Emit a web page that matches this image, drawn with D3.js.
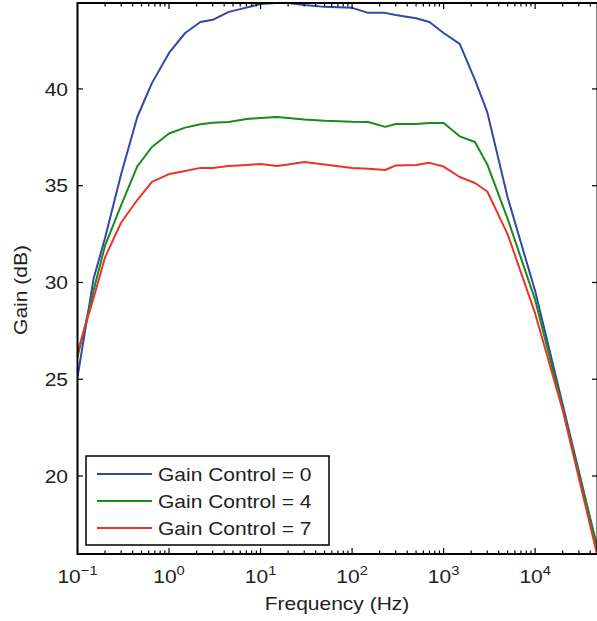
<!DOCTYPE html>
<html><head><meta charset="utf-8">
<script src="https://cdn.jsdelivr.net/npm/d3@7/dist/d3.min.js"></script>
<style>
html,body{margin:0;padding:0;background:#fff;}
svg{display:block;font-family:"Liberation Sans",Arial,sans-serif;}
</style></head>
<body>
<script>
const freqs = [0.1,0.15,0.2,0.3,0.45,0.65,1,1.5,2.2,3,4.5,7,10,15,20,30,50,100,150,230,300,500,700,1000,1500,2200,3000,5000,10000,20000,50000];
const gain0 = [25.1,30.2,32.3,35.6,38.55,40.3,41.86,42.89,43.46,43.57,43.98,44.2,44.39,44.44,44.44,44.34,44.24,44.19,43.93,43.93,43.82,43.65,43.46,42.89,42.33,40.47,38.8,34.4,29.56,23.7,15.9];
const gain4 = [26.15,29.6,31.9,34.0,36.0,37.0,37.7,38.0,38.17,38.25,38.29,38.45,38.5,38.55,38.5,38.42,38.35,38.3,38.29,38.04,38.19,38.19,38.24,38.24,37.55,37.26,36.1,33.3,29.1,23.5,15.9];
const gain7 = [26.4,29.2,31.3,33.1,34.26,35.2,35.6,35.76,35.92,35.92,36.02,36.07,36.12,36.02,36.1,36.22,36.1,35.92,35.87,35.81,36.05,36.07,36.18,35.99,35.45,35.14,34.7,32.5,28.4,23.4,15.5];
const seriesNames = ["Gain Control = 0","Gain Control = 4","Gain Control = 7"];
const seriesColors = ["#3048a8","#198a1e","#e8352b"];
const yTicks = [20,25,30,35,40];
const xDecades = [-1,0,1,2,3,4];
const xLabel = "Frequency (Hz)";
const yLabel = "Gain (dB)";

const W=597,H=621;
const L=77.5,R=597.5,T=3,B=554;
const FS=18.6, SX=1.13;
const svg=d3.select("body").append("svg").attr("width",W).attr("height",H);
const x=d3.scaleLog().domain([0.1,48000]).range([L,R]);
const y=d3.scaleLinear().domain([15.97,44.44]).range([B,T]);

function txt(g,px,py,str,anchor,rot){
  return g.append("text")
    .attr("transform",`translate(${px},${py})${rot?" rotate(-90)":""} scale(${SX},1)`)
    .attr("text-anchor",anchor).attr("font-size",FS).attr("fill","#222").text(str);
}

svg.append("defs").append("clipPath").attr("id","clip")
  .append("rect").attr("x",L).attr("y",T).attr("width",R-L).attr("height",B-T);

const series=[gain0,gain4,gain7];
const line=d3.line().x((d,i)=>x(freqs[i])).y(d=>y(d));
series.forEach((s,k)=>{
  svg.append("path").attr("clip-path","url(#clip)").datum(s)
    .attr("fill","none").attr("stroke",seriesColors[k]).attr("stroke-width",2)
    .attr("stroke-linejoin","round").attr("d",line);
});

// ticks
const minor=[];
for(let d=-1;d<=4;d++){for(let m=2;m<=9;m++){const v=m*Math.pow(10,d); if(v<=48000) minor.push(v);}}
const major=xDecades.map(d=>Math.pow(10,d));
const tk=svg.append("g").attr("stroke","#000").attr("stroke-width",1.2);
major.forEach(v=>{
  tk.append("line").attr("x1",x(v)).attr("x2",x(v)).attr("y1",B).attr("y2",B-6);
  tk.append("line").attr("x1",x(v)).attr("x2",x(v)).attr("y1",T).attr("y2",T+6);
});
minor.forEach(v=>{
  tk.append("line").attr("x1",x(v)).attr("x2",x(v)).attr("y1",B).attr("y2",B-3.5);
  tk.append("line").attr("x1",x(v)).attr("x2",x(v)).attr("y1",T).attr("y2",T+3.5);
});
yTicks.forEach(v=>{
  tk.append("line").attr("x1",L).attr("x2",L+5.5).attr("y1",y(v)).attr("y2",y(v));
  tk.append("line").attr("x1",R).attr("x2",R-5.5).attr("y1",y(v)).attr("y2",y(v));
});

// frame
svg.append("rect").attr("x",L).attr("y",T).attr("width",R-L).attr("height",B-T)
  .attr("fill","none").attr("stroke","#000").attr("stroke-width",2);

// y tick labels
yTicks.forEach(v=>{ txt(svg,68,y(v)+6.6,v,"end"); });
// x tick labels
xDecades.forEach(d=>{
  const t=txt(svg,x(Math.pow(10,d)),583,"", "middle");
  t.append("tspan").text("10");
  t.append("tspan").attr("dy",-8).attr("font-size",13).text(d<0?("\u2212"+Math.abs(d)):String(d));
});
// axis labels
txt(svg,337,610,xLabel,"middle");
txt(svg,27,290,yLabel,"middle",true);

// legend
const lg=svg.append("g");
lg.append("rect").attr("x",86).attr("y",456).attr("width",243).attr("height",89)
  .attr("fill","#fff").attr("stroke","#000").attr("stroke-width",1.5);
const rows=[474,501,528];
seriesNames.forEach((n,k)=>{
  lg.append("line").attr("x1",97).attr("x2",152).attr("y1",rows[k]).attr("y2",rows[k])
    .attr("stroke",seriesColors[k]).attr("stroke-width",2);
  txt(lg,158,rows[k]+6.6,n,"start");
});
</script>
</body></html>
